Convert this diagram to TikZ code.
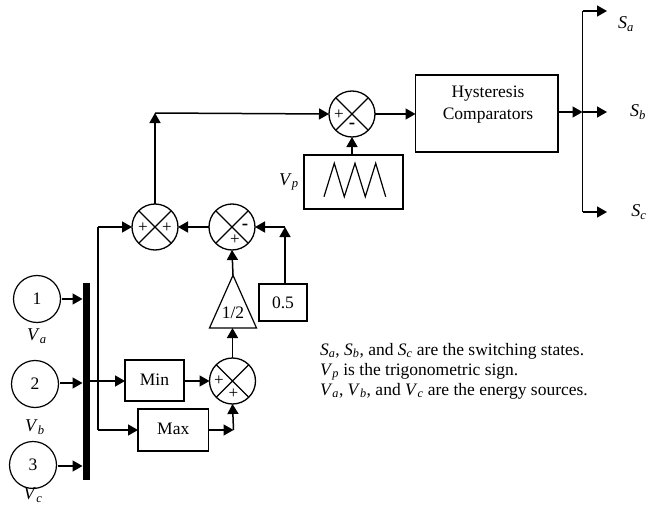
\documentclass[tikz,border=0pt]{standalone}
\usepackage{fontspec}
\setmainfont{Liberation Serif}
\usetikzlibrary{arrows.meta,shapes.geometric}
\newcommand{\sv}[2]{\textit{#1}\textsubscript{\textit{#2}}}
\tikzset{
  x=1pt,y=-1pt,
  every node/.style={font=\fontsize{17.5}{20}\selectfont,inner sep=0pt,outer sep=0pt},
  wire/.style={line width=1.5pt},
  arr/.style={wire,-{Triangle[length=10pt,width=11pt]}},
  blockbox/.style={draw,line width=1.2pt,rectangle,anchor=north west},
  source/.style={draw,line width=1.2pt,circle,minimum size=47pt},
  sumj/.style={draw,line width=1.3pt,circle,minimum size=46pt,
    path picture={\draw[line width=1.2pt] (path picture bounding box.south west)--(path picture bounding box.north east)
      (path picture bounding box.north west)--(path picture bounding box.south east);}},
  sgn/.style={font=\fontsize{17}{16}\selectfont},
  bsgn/.style={font=\fontsize{19}{16}\selectfont\bfseries},
  lbl/.style={font=\fontsize{18}{18}\selectfont},
}
\begin{document}
\begin{tikzpicture}
\useasboundingbox (0,0) rectangle (649,506);
% sources
\node[source] (s1) at (37,299) {1};
\node[source] (s2) at (35,384) {2};
\node[source] (s3) at (33,465) {3};
\node[lbl] (la) at (37,336) {\sv{V}{a}};
\node[lbl] (lb) at (35,427) {\sv{V}{b}};
\node[lbl] (lc) at (33,495) {\sv{V}{c}};
\node[fill=black,minimum width=7.5pt,minimum height=197pt,anchor=north west] (bar) at (82.5,283) {};
% blocks
\node[blockbox,minimum width=59pt,minimum height=41pt] (min) at (125,360) {\raisebox{2pt}{Min}};
\node[blockbox,minimum width=70.5pt,minimum height=42pt] (max) at (138,409) {\raisebox{2pt}{Max}};
\node[sumj] (sl) at (232.5,381) {};
\node[draw,line width=1.2pt,isosceles triangle,shape border rotate=90,isosceles triangle apex angle=48,minimum height=52pt,minimum width=47pt,anchor=south] (tri) at (233,328) {};
\node (trit) at (233,313) {1/2};
\node[blockbox,minimum width=48pt,minimum height=37pt] (half) at (259,284) {0.5};
\node[sumj] (sm) at (232,227) {};
\node[sumj] (sf) at (155,227) {};
\node[sumj] (st) at (352,114) {};
\node[blockbox,minimum width=99pt,minimum height=54pt] (vp) at (304,155) {};
\node[blockbox,minimum width=142.5pt,minimum height=77pt] (hc) at (415.5,75) {};
\node[align=center] (hct) at (488,105) {Hysteresis\\[2pt]Comparators};
\draw[line width=1.2pt] (324,196.7)--(334.3,163.3)--(344.3,196.7)--(355,163.3)--(365.3,196.7)--(375.7,163.3)--(385.7,196.7);
\node[lbl] (lp) at (289,182) {\sv{V}{p}};
% signs
\node[sgn] (p1) at (143,228) {+};
\node[sgn] (p2) at (167,228) {+};
\node[bsgn] (p3) at (245,227) {-};
\node[sgn] (p4) at (235,240) {+};
\node[sgn] (p5) at (339,115) {+};
\node[bsgn] (p6) at (352,126) {-};
\node[sgn] (p7) at (219,381) {+};
\node[sgn] (p8) at (233.5,394) {+};
% junctions
\coordinate (busT) at (582.5,11);
\coordinate (busM) at (582.5,112);
\coordinate (busB) at (582.5,212);
\coordinate (oa) at (607,11);
\coordinate (ob) at (607,112);
\coordinate (oc) at (607,212);
\coordinate (j1) at (98,227);
\coordinate (j2) at (98,430);
\coordinate (j3) at (233.5,430);
\coordinate (j4) at (155,113);
\coordinate (j5) at (285,227);
\coordinate (halfT) at (285,284);
\coordinate (minIn) at (125,381);
% connectors
\draw[arr] ([xshift=1pt]s1.east|-0,299) -- (bar.west|-0,299);
\draw[arr] ([xshift=1pt]s2.east|-0,383) -- (bar.west|-0,383);
\draw[arr] ([xshift=1pt]s3.east|-0,466) -- (bar.west|-0,466);
\draw[arr] (bar.east|-minIn) -- (minIn);
\draw[wire] (j1) -- (j2);
\draw[arr] (j2) -- (j2-|max.west);
\draw[arr] (j1) -- (sf.west);
\draw[arr] (min.east|-sl.west) -- (sl.west);
\draw[arr] (max.east|-j3) -- (j3);
\draw[arr] (j3) -- (sl.south);
\draw[arr] (sl.north) -- (tri.south-|sl.north);
\draw[arr] (tri.north) -- (sm.south);
\draw[arr] (halfT) -- (j5);
\draw[arr] (j5) -- (sm.east);
\draw[arr] (sm.west) -- (sf.east);
\draw[arr] (sf.north) -- (j4);
\draw[arr] (j4) -- (st.west);
\draw[arr] (vp.north-|st.south) -- (st.south);
\draw[arr] (st.east) -- (hc.west|-st.east);
\draw[arr] (hc.east|-busM) -- (busM);
\draw[wire] (oa-|busT) -- (busB);
\draw[arr] (busT) -- (oa);
\draw[arr] (busM) -- (ob);
\draw[arr] (busB) -- (oc);
\node[lbl] (sa) at (626,24) {\sv{S}{a}};
\node[lbl] (sb) at (638,112) {\sv{S}{b}};
\node[lbl] (sc) at (639,212) {\sv{S}{c}};
\node[font=\fontsize{17.5}{20}\selectfont,align=left,anchor=north west] (note) at (320,343) {\sv{S}{a}, \sv{S}{b}, and \sv{S}{c} are the switching states.\\\sv{V}{p} is the trigonometric sign.\\\sv{V}{a}, \sv{V}{b}, and \sv{V}{c} are the energy sources.};
\end{tikzpicture}
\end{document}
